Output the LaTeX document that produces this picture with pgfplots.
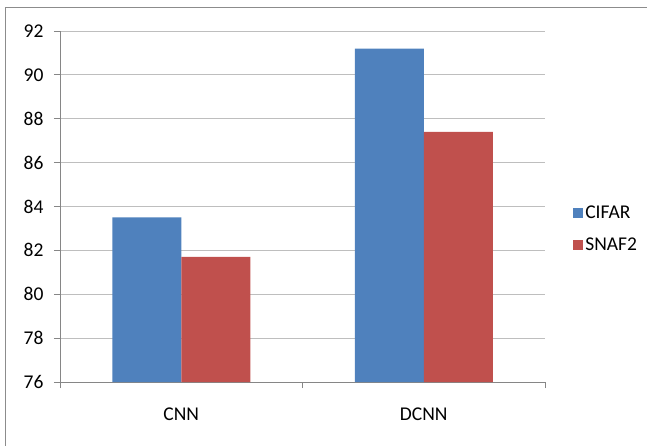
\documentclass[border=0pt]{standalone}
\usepackage{fontspec}
\setmainfont{Carlito}
\usepackage{pgfplots}
\pgfplotsset{compat=1.18}
\definecolor{cblue}{HTML}{4F81BD}
\definecolor{cred}{HTML}{C0504D}
\definecolor{gridgray}{HTML}{BEBEBE}
\definecolor{axgray}{HTML}{868686}
\definecolor{framegray}{HTML}{8C8C8C}
\begin{document}
\begin{tikzpicture}
\path[use as bounding box] (0pt,0pt) rectangle (647pt,445pt);
\draw[framegray, line width=1pt] (5.5pt,-5pt) -- (5.5pt,437pt) -- (660pt,437pt);
\begin{axis}[
  at={(60pt,63pt)}, anchor=south west,
  scale only axis, width=485pt, height=351pt,
  ymin=76, ymax=92, ytick={76,78,...,92},
  xmin=-0.5, xmax=1.5,
  xtick={-0.5,0.5,1.5}, xticklabels={CNN,DCNN},
  x tick label as interval,
  axis x line*=bottom, axis y line*=left,
  axis line style={axgray, line width=0.8pt, -},
  tick style={axgray, line width=0.8pt},
  major tick length=6pt, tick align=outside,
  ymajorgrids, grid style={gridgray, line width=1pt},
  tick label style={font=\fontsize{19.5}{21}\selectfont, text=black},
  xticklabel style={yshift=-16pt},
  yticklabel style={xshift=-7pt},
  /pgf/number format/assume math mode=true,
  legend style={draw=none, fill=none, at={(1.058,0.436)}, anchor=west,
    font=\fontsize{19.5}{21}\selectfont, row sep=14pt, inner sep=0pt,
    nodes={inner sep=2pt}},
  legend cell align=left,
]
\addplot[ybar, fill=cblue, draw=none, bar width=69pt, bar shift=-34.5pt,
  legend image code/.code={\fill[cblue] (0pt,-5pt) rectangle (10pt,5pt);}]
  coordinates {(0,83.5) (1,91.2)};
\addlegendentry{CIFAR}
\addplot[ybar, fill=cred, draw=none, bar width=69pt, bar shift=34.5pt,
  legend image code/.code={\fill[cred] (0pt,-5pt) rectangle (10pt,5pt);}]
  coordinates {(0,81.7) (1,87.4)};
\addlegendentry{SNAF2}
\end{axis}
\end{tikzpicture}
\end{document}
